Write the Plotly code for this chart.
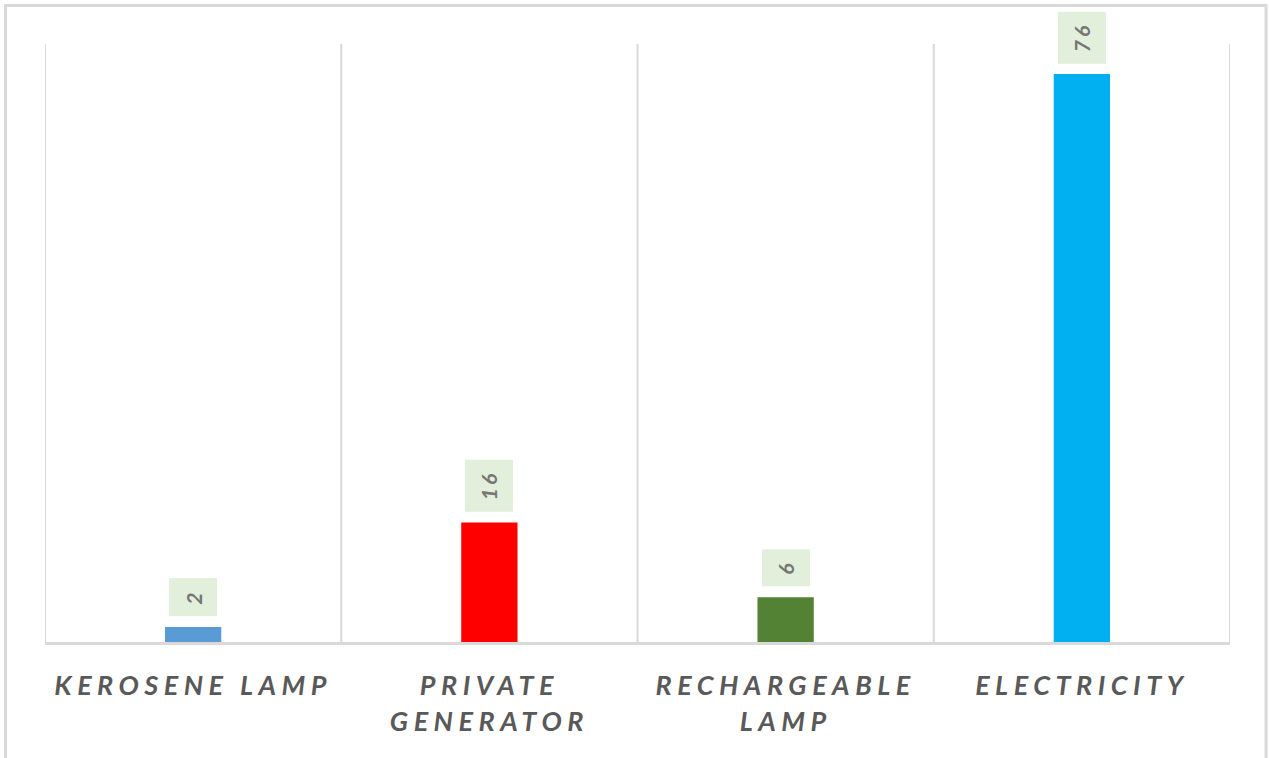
import plotly.graph_objects as go

categories = ["KEROSENE LAMP", "PRIVATE<br>GENERATOR", "RECHARGEABLE<br>LAMP", "ELECTRICITY"]
values = [2, 16, 6, 76]
colors = ["#5B9BD5", "#FF0000", "#548235", "#00B0F0"]

LS = "letter-spacing:5.5px"


def spaced(label):
    return "<br>".join(f'<span style="{LS}">{part}</span>' for part in label.split("<br>"))


tick_text = [spaced(c) for c in categories]
x_pos = list(range(len(categories)))

fig = go.Figure()
fig.add_trace(go.Bar(
    x=x_pos,
    y=values,
    width=0.19,
    marker=dict(color=colors, line=dict(width=0)),
    hoverinfo="skip",
    showlegend=False,
))

for xi, v in zip(x_pos, values):
    fig.add_annotation(
        x=xi, y=v, xref="x", yref="y",
        text=f'<span style="letter-spacing:3px">{v}</span>',
        showarrow=False,
        textangle=-90,
        yanchor="bottom",
        xanchor="center",
        yshift=10,
        bgcolor="#E2EFDA",
        borderpad=11,
        font=dict(family="Lato", size=21, color="#767676", weight="bold", style="italic"),
    )

# outer frame
fig.add_shape(type="rect", xref="paper", yref="paper",
              x0=-0.0333, x1=1.0304, y0=-0.25, y1=1.0644,
              line=dict(color="#D9D9D9", width=3), fillcolor="rgba(0,0,0,0)", layer="below")

fig.update_layout(
    width=1269, height=758,
    margin=dict(l=45, r=39, t=44, b=116),
    paper_bgcolor="white",
    plot_bgcolor="white",
    bargap=0.81,
    xaxis=dict(
        range=[-0.5, 3.5],
        tickmode="array",
        tickvals=x_pos,
        ticktext=tick_text,
        showgrid=False,
        showline=True, linecolor="#D9D9D9", linewidth=3,
        ticks="",
        ticklabelstandoff=18,
        tickfont=dict(family="Lato", size=27, color="#595959", weight="bold", style="italic"),
        zeroline=False,
        fixedrange=True,
    ),
    yaxis=dict(
        range=[0, 80],
        showgrid=False, showticklabels=False, zeroline=False, showline=False, ticks="",
        fixedrange=True,
    ),
)

# vertical separators at category boundaries
for b in [-0.5, 0.5, 1.5, 2.5, 3.5]:
    fig.add_shape(type="line", xref="x", yref="paper", x0=b, x1=b, y0=0, y1=1,
                  line=dict(color="#D9D9D9", width=2), layer="below")

fig.write_html("out.html", config={"displayModeBar": False},
               post_script="document.body.style.margin='0';document.body.style.overflow='hidden';")
